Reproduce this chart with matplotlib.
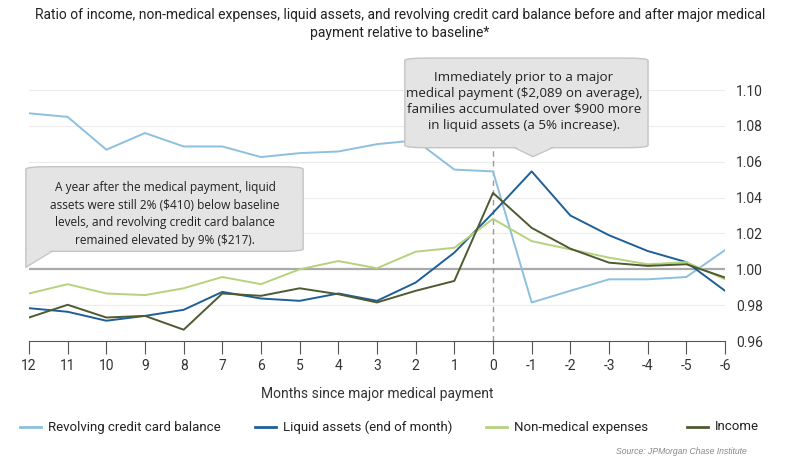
import matplotlib
matplotlib.use("Agg")
import matplotlib.pyplot as plt
from matplotlib.patches import FancyBboxPatch, Polygon
from matplotlib.lines import Line2D

plt.rcParams['font.family'] = ['Roboto', 'DejaVu Sans']

months = [12, 11, 10, 9, 8, 7, 6, 5, 4, 3, 2, 1, 0, -1, -2, -3, -4, -5, -6]
income = [0.9731, 0.9802, 0.9731, 0.9740, 0.9663, 0.9865, 0.9852, 0.9894, 0.9861, 0.9815,
          0.9880, 0.9935, 1.0426, 1.0231, 1.0115, 1.0037, 1.0019, 1.0028, 0.9954]
non_medical = [0.9865, 0.9917, 0.9865, 0.9856, 0.9894, 0.9957, 0.9917, 1.0000, 1.0046, 1.0006,
               1.0098, 1.0120, 1.0281, 1.0157, 1.0111, 1.0065, 1.0028, 1.0040, 0.9944]
liquid = [0.9783, 0.9763, 0.9713, 0.9740, 0.9774, 0.9874, 0.9837, 0.9824, 0.9865, 0.9824,
          0.9926, 1.0093, 1.0315, 1.0546, 1.0300, 1.0190, 1.0102, 1.0040, 0.9880]
revolving = [1.0870, 1.0850, 1.0667, 1.0760, 1.0685, 1.0685, 1.0626, 1.0648, 1.0657, 1.0698,
             1.0719, 1.0556, 1.0546, 0.9815, 0.9880, 0.9944, 0.9944, 0.9957, 1.0107]
yticks = [0.96, 0.98, 1.00, 1.02, 1.04, 1.06, 1.08, 1.10]

series = [
    ("Revolving credit card balance", revolving, "#8dc0df"),
    ("Liquid assets (end of month)", liquid, "#1f5f97"),
    ("Non-medical expenses", non_medical, "#b4d37c"),
    ("Income", income, "#4e5a31"),
]

fig = plt.figure(figsize=(8, 4.68), dpi=100)
ax = fig.add_axes([29/800, 1-341/468, (725-29)/800, (341-90)/468])

for lab, vals, col in series:
    ax.plot(months, vals, color=col, lw=1.4, zorder=3)

ax.set_xlim(12, -6)
ax.set_ylim(0.96, 1.10)
ax.set_xticks(months)
ax.set_xticklabels([str(m) for m in months], fontsize=10, color="#333333")
ax.set_yticks(yticks)
ax.set_yticklabels([f"{v:.2f}" for v in yticks], fontsize=10, color="#333333")
ax.yaxis.tick_right()
ax.tick_params(axis='y', length=0, pad=8)
ax.tick_params(axis='x', length=9, color="#555555", pad=4, width=0.8)
for s in ['top', 'left', 'right']:
    ax.spines[s].set_visible(False)
ax.spines['bottom'].set_color("#555555")
ax.spines['bottom'].set_linewidth(0.8)
for v in yticks[1:]:
    ax.axhline(v, color="#aaaaaa" if v == 1.00 else "#ececec", lw=1.6 if v == 1.00 else 0.8, zorder=1)
ax.axvline(0, color="#999999", lw=1.0, ls=(0, (4, 3)), zorder=2)
ax.set_xlabel("Months since major medical payment", fontsize=10, color="#333333", labelpad=10)

box_fc, box_ec = "#e4e4e4", "#c4c4c4"
CALL = ['Open Sans', 'DejaVu Sans']

# Callout 1
b1 = FancyBboxPatch((-4.01, 1.0678), 6.29, 0.0500, boxstyle="round,pad=0,rounding_size=0.55",
                    mutation_aspect=0.0025, fc=box_fc, ec=box_ec, lw=1, zorder=6, clip_on=False)
ax.add_patch(b1)
ax.add_patch(Polygon([(-0.55, 1.0686), (-1.55, 1.0686), (-1.03, 1.0628)], closed=True,
                     fc=box_fc, ec='none', zorder=7, clip_on=False))
ax.plot([-0.55, -1.03, -1.55], [1.0679, 1.0628, 1.0679], color=box_ec, lw=1, zorder=7, clip_on=False)
ax.text(-0.8, 1.0937, "Immediately prior to a major\nmedical payment ($2,089 on average),\n"
        "families accumulated over $900 more\nin liquid assets (a 5% increase).",
        ha='center', va='center', fontsize=9.6, color="#222222", linespacing=1.3, zorder=8,
        family=CALL)

# Callout 2
b2 = FancyBboxPatch((4.91, 1.0100), 7.17, 0.0472, boxstyle="round,pad=0,rounding_size=0.55",
                    mutation_aspect=0.0025, fc=box_fc, ec=box_ec, lw=1, zorder=6, clip_on=False)
ax.add_patch(b2)
ax.add_patch(Polygon([(12.08, 1.0112), (12.08, 1.0011), (11.40, 1.0106)], closed=True,
                     fc=box_fc, ec='none', zorder=7, clip_on=False))
ax.plot([12.08, 12.08, 11.40], [1.0112, 1.0011, 1.0101], color=box_ec, lw=1, zorder=7, clip_on=False)
ax.text(8.48, 1.0308, "A year after the medical payment, liquid\nassets were still 2% ($410) below baseline\n"
        "levels, and revolving credit card balance\nremained elevated by 9% ($217).",
        ha='center', va='center', fontsize=8.6, color="#222222", linespacing=1.45, zorder=8,
        family=CALL)

# Title
fig.text(0.5, 1-24/468, "Ratio of income, non-medical expenses, liquid assets, and revolving credit card balance before and after major medical\npayment relative to baseline*",
         ha='center', va='center', fontsize=10, color="#222222", linespacing=1.35)

# Legend
starts = [20, 255, 486, 687]
ly = 1 - 427/468
for (lab, vals, col), sx in zip(series, starts):
    fig.add_artist(Line2D([sx/800, (sx+21)/800], [ly, ly], color=col, lw=2))
    fig.text((sx+28)/800, ly, lab, ha='left', va='center', fontsize=9.5, color="#222222")

fig.text(747/800, 1-452/468, "Source: JPMorgan Chase Institute", ha='right', va='center',
         fontsize=6.2, color="#888888", family=['Liberation Sans', 'DejaVu Sans'], style='italic')

fig.savefig("out.png", dpi=100, facecolor="white")
